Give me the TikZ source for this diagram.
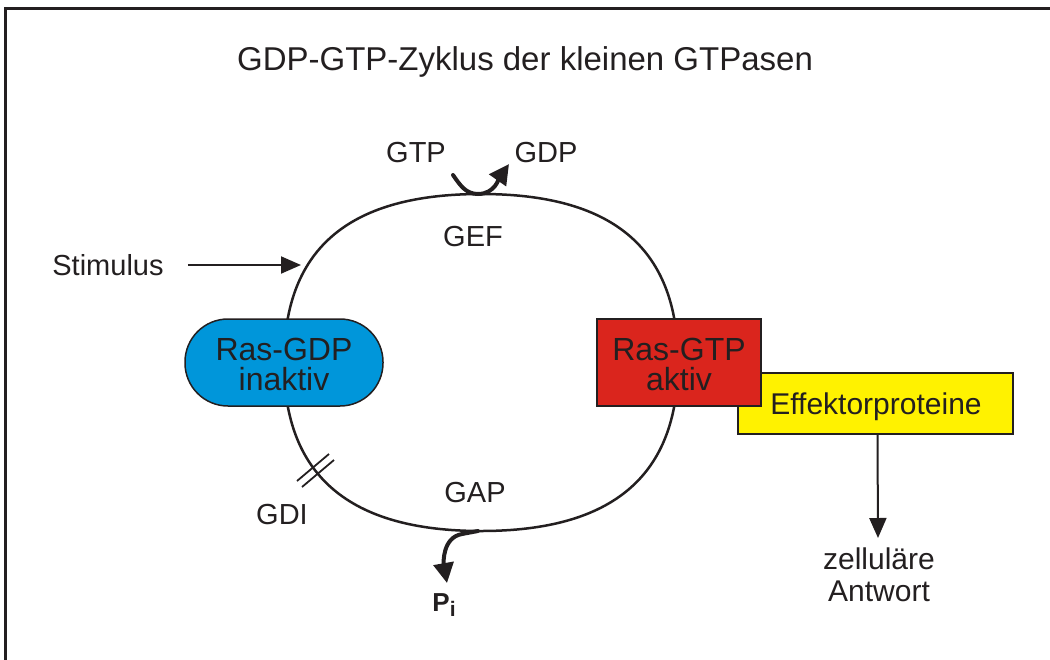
\documentclass[tikz,border=0pt]{standalone}
\usepackage{fontspec}
\setmainfont{Liberation Sans}
\usetikzlibrary{arrows.meta}
\definecolor{ink}{HTML}{231F20}
\definecolor{rasblue}{RGB}{0,150,218}
\definecolor{rasred}{RGB}{218,37,29}
\definecolor{effyellow}{RGB}{255,242,0}
\tikzset{
  lbl/.style={text=ink, inner sep=0pt, font=\fontsize{29}{32}\selectfont},
  boxtxt/.style={text=ink, align=center, inner sep=0pt, font=\fontsize{32}{30}\selectfont},
  thinarrow/.style={ink, line width=2pt, -{Triangle[length=20pt,width=17pt]}},
  fatarrow/.style={ink, line width=4pt, line cap=round, -{Triangle[length=20pt,width=20pt]}},
}
\begin{document}
\begin{tikzpicture}[x=1pt,y=-1pt]
\useasboundingbox (0,0) rectangle (1050,659);
% frame
\draw[ink, line width=3pt] (1052,8) -- (5,8) -- (5,661);
% title
\node[lbl, font=\fontsize{33}{36}\selectfont] (title) at (525,62) {GDP-GTP-Zyklus der kleinen GTPasen};
% cycle
\draw[ink, line width=2.5pt] (678,362.5) .. controls (678,475.5) and (613,531) .. (481,531)
  .. controls (349,531) and (284,475.5) .. (284,362.5)
  .. controls (284,245) and (353,194) .. (481,194)
  .. controls (609,194) and (678,245) .. (678,362.5);
\coordinate (top) at (478,194);
\coordinate (bot) at (478,531);
\coordinate (stimtip) at (301,265);
% boxes
\node[draw=ink, line width=1.5pt, fill=effyellow, minimum width=275pt, minimum height=61pt, inner sep=0pt] (eff) at (875.5,403.5) {};
\node[boxtxt, font=\fontsize{30}{32}\selectfont] (efftxt) at (876,407) {Effektorproteine};
\node[draw=ink, line width=1.5pt, fill=rasblue, rounded corners=43pt, minimum width=198pt, minimum height=87pt, inner sep=0pt] (gdp) at (284,362.5) {};
\node[boxtxt] (gdptxt) at (284,364) {Ras-GDP\\inaktiv};
\node[draw=ink, line width=1.5pt, fill=rasred, minimum width=164pt, minimum height=87pt, inner sep=0pt] (gtp) at (679,362.5) {};
\node[boxtxt] (gtptxt) at (679,364) {Ras-GTP\\aktiv};
% labels
\node[lbl] (gtplbl) at (416,153) {GTP};
\node[lbl] (gdplbl) at (546,153) {GDP};
\node[lbl] (gef) at (473,237) {GEF};
\node[lbl] (gap) at (475,493) {GAP};
\node[lbl] (gdi) at (282,515) {GDI};
\node[lbl] (stim) at (108,265) {Stimulus};
\node[lbl, align=center, font=\fontsize{30}{32}\selectfont] (resp) at (879,575) {zelluläre\\Antwort};
\node[text=ink, inner sep=0pt, font=\bfseries\fontsize{26}{28}\selectfont] (pi) at (444,605) {P\raisebox{-0.35ex}{\fontsize{21}{22}\selectfont i}};
% arrows
\draw[thinarrow] (stim.east) ++(24,0) coordinate (stimstart) -- (stimtip);
\draw[thinarrow] (eff.south) ++(2,0) -- (878,538);
\draw[fatarrow] (453,175) to[out=-55,in=180] (top) to[out=0,in=-125] (509,164);
\draw[fatarrow] (bot) -- (462,534) to[out=190,in=100] (447,583);
% GDI hash
\draw[ink, line width=1.8pt] (297,481) -- (329,454);
\draw[ink, line width=1.8pt] (302,487) -- (334,460);
\end{tikzpicture}
\end{document}
